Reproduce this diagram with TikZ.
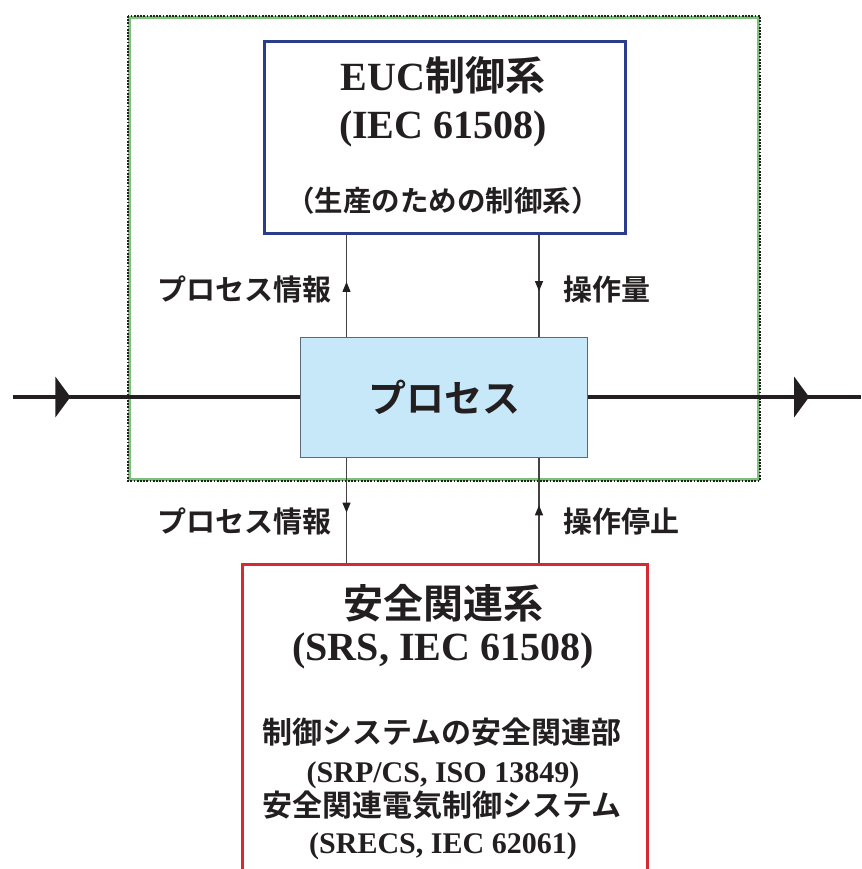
\documentclass[tikz,border=0pt]{standalone}
\usepackage{fontspec}
\setmainfont{Liberation Serif}
\newfontfamily\jp{Noto Sans CJK JP}[BoldFont={Noto Sans CJK JP Bold}]
\usetikzlibrary{arrows.meta,decorations.markings}
\definecolor{zonegreen}{HTML}{7CC07C}
\definecolor{eucblue}{HTML}{2A3C8C}
\definecolor{srsred}{HTML}{D42A32}
\definecolor{procfill}{HTML}{C6E8F8}
\definecolor{procedge}{HTML}{5A6A78}
\definecolor{ink}{HTML}{231F20}
\tikzset{
  boxnode/.style={draw, inner sep=0pt, anchor=north west},
  txt/.style={inner sep=0pt, text=ink, font=\bfseries},
  sig/.style={draw=ink!85, line width=1.2pt},
  flow/.style={draw=ink, line width=4pt},
  smallarrow/.style={postaction={decorate}, decoration={markings,
     mark=at position #1 with {\arrow[ink]{Triangle[length=10pt,width=8pt]}}}},
  bigarrow/.style={postaction={decorate}, decoration={markings,
     mark=at position #1 with {\arrow{Triangle[length=15pt,width=40pt]}}}},
}
\newcommand{\sz}[1]{\fontsize{#1}{#1}\selectfont}
\begin{document}
\begin{tikzpicture}[x=1pt,y=-1pt]
\useasboundingbox (0,0) rectangle (861,869);
\clip (0,0) rectangle (861,869);
\fill[white] (0,0) rectangle (861,869);

% dotted EUC zone
\node[boxnode, draw=zonegreen, line width=2.8pt, minimum width=629pt, minimum height=462pt] (zone) at (128,16) {};
\draw[ink, line width=1.8pt, dash pattern=on 1.8pt off 1.4pt] (zone.north west) rectangle (zone.south east);

% boxes
\node[boxnode, draw=eucblue, line width=3pt, minimum width=361pt, minimum height=192pt] (euc) at (263,40) {};
\node[boxnode, draw=procedge, fill=procfill, line width=1pt, minimum width=287pt, minimum height=120pt] (proc) at (300,337) {};
\node[boxnode, draw=srsred, line width=3pt, minimum width=405pt, minimum height=400pt] (srs) at (241,563) {};

% texts in EUC box
\node[txt, anchor=base] (euct1) at (443,91) {\sz{40}EUC{\jp 制御系}};
\node[txt, anchor=base] (euct2) at (443,139) {\sz{40}(IEC 61508)};
\node[txt, anchor=center] (euct3) at (443,201) {\sz{28.5}\jp （生産のための制御系）};

% process text
\node[txt, anchor=center] (proct) at (proc.center) {\sz{38}\jp プロセス};

% texts in SRS box
\node[txt, anchor=center] (srst1) at (443,603) {\sz{40}\jp 安全関連系};
\node[txt, anchor=base] (srst2) at (443,660) {\sz{40}(SRS, IEC 61508)};
\node[txt, anchor=center] (srst3) at (442,732) {\sz{30}\jp 制御システムの安全関連部};
\node[txt, anchor=base] (srst4) at (443,782) {\sz{30}(SRP/CS, ISO 13849)};
\node[txt, anchor=center] (srst5) at (442,805) {\sz{30}\jp 安全関連電気制御システム};
\node[txt, anchor=base] (srst6) at (443,853) {\sz{30}(SRECS, IEC 62061)};

% signal labels
\node[txt, anchor=east] (lab1) at (332,289) {\sz{29}\jp プロセス情報};
\node[txt, anchor=west] (lab2) at (563,289) {\sz{29}\jp 操作量};
\node[txt, anchor=east] (lab3) at (332,521) {\sz{29}\jp プロセス情報};
\node[txt, anchor=west] (lab4) at (563,521) {\sz{29}\jp 操作停止};

% signal lines
\coordinate (xl) at (346.5,0);
\coordinate (xr) at (539,0);
\draw[sig, smallarrow=0.54] (xl |- proc.north) -- (xl |- euc.south);
\draw[sig, smallarrow=0.55] (xr |- euc.south) -- (xr |- proc.north);
\draw[sig, smallarrow=0.52] (xl |- proc.south) -- (xl |- srs.north);
\draw[sig, smallarrow=0.55] (xr |- srs.north) -- (xr |- proc.south);

% main flow
\coordinate (fin) at (13,397);
\coordinate (fout) at (861,397);
\draw[flow, bigarrow=0.2] (fin) -- (fin -| proc.west);
\draw[flow, bigarrow=0.81] (fout -| proc.east) -- (fout);
\end{tikzpicture}
\end{document}
